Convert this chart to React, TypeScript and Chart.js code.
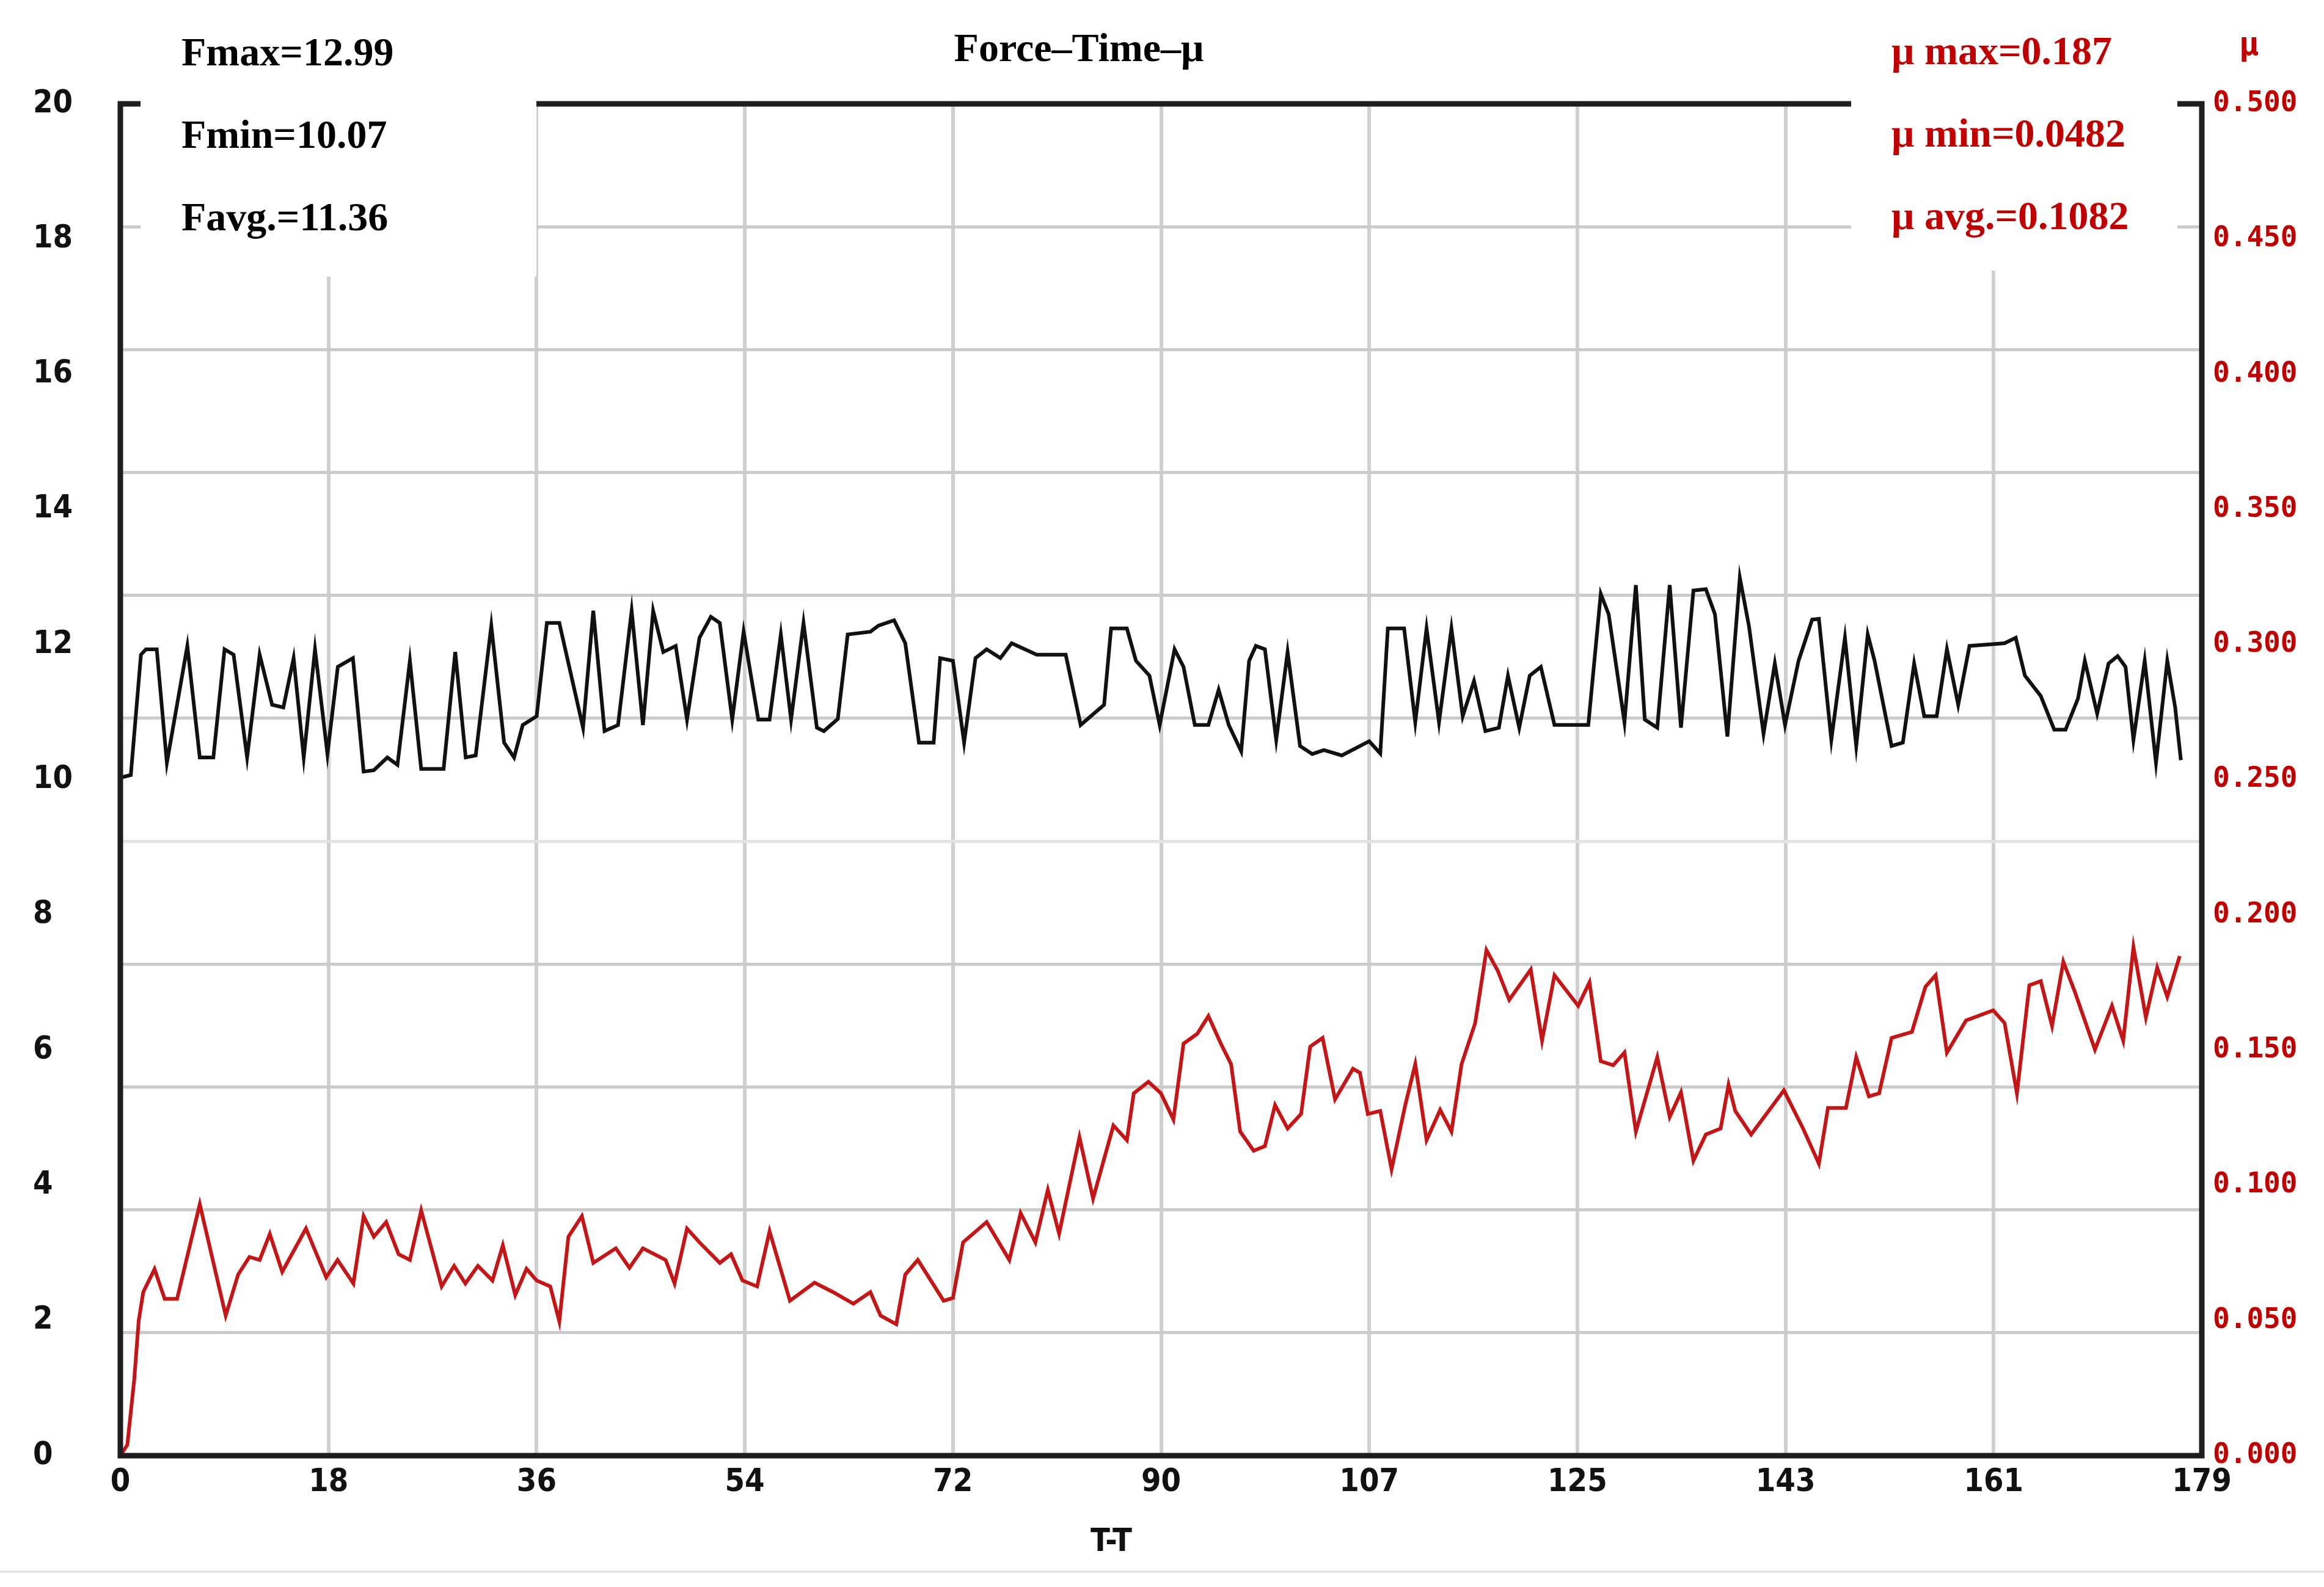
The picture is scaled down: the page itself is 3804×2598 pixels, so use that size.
import React, { useEffect, useRef } from 'react';
import { Chart, registerables } from 'chart.js';

Chart.register(...registerables);

// ---------- data ----------
const forceTime = [
  0, 0.9, 1.77, 2.2, 3.13, 4.0, 5.76, 6.83, 8.0, 8.96, 9.74, 10.9, 11.98, 13.05, 14.02, 14.9, 15.77, 16.74, 17.81,
  18.7, 20.0, 20.92, 21.8, 22.96, 23.83, 24.9, 25.87, 27.8, 28.8, 29.7, 30.56, 31.9, 33.0, 33.86, 34.6, 35.8,
  36.68, 37.75, 39.79, 40.67, 41.64, 42.8, 43.97, 44.94, 45.82, 46.69, 47.76, 48.73, 49.8, 50.78, 51.55, 52.62,
  53.6, 54.86, 55.83, 56.8, 57.68, 58.75, 59.9, 60.5, 61.7, 62.55, 64.5, 65.2, 66.54, 67.5, 68.68, 69.94, 70.5,
  71.6, 72.56, 73.54, 74.5, 75.68, 76.65, 78.8, 81.3, 82.58, 84.6, 85.2, 86.56, 87.34, 88.5, 89.38, 90.66, 91.43,
  92.4, 93.57, 94.45, 95.32, 96.39, 97.07, 97.65, 98.43, 99.4, 100.38, 101.45, 102.5, 103.5, 105.04, 107.4,
  108.35, 109.0, 110.4, 111.36, 112.33, 113.4, 114.47, 115.44, 116.41, 117.39, 118.55, 119.33, 120.3, 121.2,
  122.16, 123.33, 126.24, 127.31, 127.99, 129.35, 130.33, 131.1, 132.17, 133.24, 134.21, 135.28, 136.35, 137.13,
  138.2, 139.27, 140.05, 141.31, 142.28, 143.16, 144.32, 145.49, 146.07, 147.14, 148.31, 149.28, 150.27, 150.86,
  152.32, 153.29, 154.26, 155.13, 156.2, 157.08, 158.05, 159.02, 162.04, 163.0, 163.79, 165.15, 166.31, 167.28,
  168.35, 168.94, 170.0, 170.98, 171.76, 172.44, 173.12, 174.09, 175.06, 176.03, 176.71, 177.2,
];
const forceValue = [
  10.03, 10.07, 11.85, 11.93, 11.93, 10.25, 11.98, 10.33, 10.33, 11.93, 11.85, 10.33, 11.85, 11.11, 11.07, 11.8,
  10.33, 11.93, 10.38, 11.67, 11.8, 10.12, 10.14, 10.33, 10.22, 11.76, 10.16, 10.16, 11.89, 10.33, 10.36, 12.28,
  10.55, 10.33, 10.81, 10.94, 12.32, 12.32, 10.77, 12.5, 10.72, 10.81, 12.5, 10.81, 12.5, 11.89, 11.98, 10.89,
  12.1, 12.41, 12.32, 10.89, 12.19, 10.89, 10.89, 12.15, 10.89, 12.32, 10.77, 10.72, 10.9, 12.15, 12.19, 12.28,
  12.36, 12.02, 10.55, 10.55, 11.8, 11.76, 10.55, 11.8, 11.93, 11.8, 12.02, 11.85, 11.85, 10.81, 11.11, 12.24,
  12.24, 11.76, 11.54, 10.81, 11.93, 11.67, 10.81, 10.81, 11.33, 10.81, 10.42, 11.76, 11.98, 11.93, 10.59, 11.89,
  10.5, 10.38, 10.44, 10.36, 10.57, 10.39, 12.24, 12.24, 10.85, 12.24, 10.85, 12.24, 10.94, 11.46, 10.72, 10.77,
  11.54, 10.77, 11.54, 11.67, 10.81, 10.81, 12.75, 12.45, 10.85, 12.88, 10.89, 10.77, 12.88, 10.77, 12.8, 12.82,
  12.45, 10.64, 12.99, 12.28, 10.68, 11.72, 10.81, 11.76, 12.37, 12.38, 10.59, 12.1, 10.5, 12.15, 11.76, 10.5,
  10.55, 11.72, 10.94, 10.94, 11.93, 11.11, 11.98, 12.02, 12.1, 11.54, 11.24, 10.74, 10.74, 11.2, 11.76, 10.98,
  11.72, 11.83, 11.67, 10.59, 11.76, 10.25, 11.76, 11.07, 10.29,
];
const muTime = [
  0, 0.6, 1.19, 1.58, 1.97, 2.94, 3.81, 4.88, 6.83, 9.06, 10.13, 11.1, 11.98, 12.85, 13.92, 15.96, 17.7, 18.68,
  20.04, 20.92, 21.8, 22.86, 23.93, 24.9, 25.87, 27.63, 28.7, 29.67, 30.75, 32.0, 32.89, 33.96, 34.93, 35.8,
  36.97, 37.75, 38.53, 39.69, 40.67, 42.61, 43.78, 44.94, 46.89, 47.66, 48.73, 49.8, 51.55, 52.52, 53.5, 54.76,
  55.83, 57.58, 59.7, 61.29, 63.04, 64.5, 65.37, 66.73, 67.5, 68.58, 70.8, 71.6, 72.47, 74.5, 76.45, 77.42, 78.69,
  79.76, 80.73, 82.48, 83.65, 85.4, 86.56, 87.15, 88.41, 89.49, 90.56, 91.43, 92.6, 93.57, 94.64, 95.52, 96.3,
  97.46, 98.43, 99.3, 100.38, 101.54, 102.32, 103.39, 104.46, 106.0, 106.6, 107.28, 108.35, 109.32, 110.5,
  111.36, 112.33, 113.5, 114.47, 115.34, 116.51, 117.48, 118.45, 119.44, 121.29, 122.26, 123.33, 125.37, 126.34,
  127.31, 128.38, 129.35, 130.33, 132.17, 133.24, 134.21, 135.28, 136.35, 137.62, 138.3, 138.88, 140.24, 143.06,
  144.71, 146.07, 146.85, 148.4, 149.28, 150.37, 151.25, 152.32, 154.07, 155.23, 156.11, 157.08, 158.73, 161.06,
  162.04, 163.1, 164.17, 165.15, 166.12, 167.09, 168.06, 169.81, 171.27, 172.24, 173.12, 174.19, 175.16, 176.03,
  177.1,
];
const muValue = [
  0.0, 0.004, 0.028, 0.05, 0.0605, 0.069, 0.058, 0.058, 0.093, 0.0518, 0.067, 0.0735, 0.0724, 0.082, 0.068, 0.084,
  0.066, 0.0724, 0.0637, 0.0886, 0.081, 0.0864, 0.0745, 0.0724, 0.0907, 0.0626, 0.0702, 0.0637, 0.0702, 0.0648,
  0.0778, 0.0594, 0.0691, 0.0648, 0.0626, 0.0497, 0.081, 0.0886, 0.0713, 0.0767, 0.0695, 0.0767, 0.0724, 0.0637,
  0.084, 0.0789, 0.0713, 0.0745, 0.0648, 0.0626, 0.083, 0.0573, 0.064, 0.0605, 0.0562, 0.0605, 0.0518, 0.0486,
  0.067, 0.0724, 0.0573, 0.0583, 0.0789, 0.0864, 0.0724, 0.0897, 0.0789, 0.0983, 0.0821, 0.1178, 0.0951, 0.1221,
  0.1167, 0.134, 0.1383, 0.134, 0.1243, 0.1524, 0.156, 0.1626, 0.1524, 0.1448, 0.1199, 0.1128, 0.1145, 0.1297,
  0.121, 0.1264, 0.1513, 0.1545, 0.1318, 0.1431, 0.1416, 0.1264, 0.1275, 0.1059, 0.1297, 0.1448, 0.1167, 0.1279,
  0.1199, 0.1448, 0.16, 0.187, 0.1794, 0.1686, 0.1798, 0.1535, 0.1777, 0.1664, 0.1751, 0.1459, 0.1444, 0.1491,
  0.1199, 0.1474, 0.1253, 0.1344, 0.1091, 0.1188, 0.121, 0.1372, 0.1275, 0.1188, 0.1351, 0.121, 0.108, 0.1286,
  0.1286, 0.1474, 0.1329, 0.134, 0.1545, 0.1567, 0.1734, 0.1777, 0.1491, 0.161, 0.1647, 0.16, 0.134, 0.174,
  0.1755, 0.1589, 0.1827, 0.1718, 0.1502, 0.1664, 0.1535, 0.1881, 0.1621, 0.1805, 0.1697, 0.1848,
];

const xTickLabels = ['0', '18', '36', '54', '72', '90', '107', '125', '143', '161', '179'];
const leftTickLabels = ['0', '2', '4', '6', '8', '10', '12', '14', '16', '18', '20'];
const rightTickLabels = ['0.000', '0.050', '0.100', '0.150', '0.200', '0.250', '0.300', '0.350', '0.400', '0.450', '0.500'];
const gridRowCount = 11;

const chartTitle = 'Force–Time–μ';
const xAxisTitle = 'T-T';
const rightAxisTitle = 'μ';
const forceStats = ['Fmax=12.99', 'Fmin=10.07', 'Favg.=11.36'];
const muStats = ['μ max=0.187', 'μ min=0.0482', 'μ avg.=0.1082'];

// ---------- styles ----------
const W = 3804;
const H = 2598;
const RED = '#c00000';
const NARROW = "'Liberation Sans Narrow', 'DejaVu Sans Condensed', 'DejaVu Sans', sans-serif";
const MONO = "'DejaVu Sans Mono', 'Liberation Mono', monospace";
const SERIF = "'Liberation Serif', 'DejaVu Serif', serif";

const overlayPlugin = {
  id: 'overlay',
  beforeDraw(chart: any) {
    const ctx = chart.ctx;
    ctx.save();
    ctx.fillStyle = '#ffffff';
    ctx.fillRect(0, 0, chart.width, chart.height);
    ctx.restore();
  },
  afterDraw(chart: any) {
    const ctx = chart.ctx;
    const a = chart.chartArea;
    ctx.save();
    // frame
    ctx.strokeStyle = '#1e1e1e';
    ctx.lineWidth = 9;
    ctx.lineJoin = 'miter';
    ctx.strokeRect(a.left, a.top, a.right - a.left, a.bottom - a.top);
    // white label boxes
    ctx.fillStyle = '#ffffff';
    ctx.fillRect(230, 0, 648, 453);
    ctx.fillRect(3030, 0, 534, 443);
    // title
    ctx.fillStyle = '#000000';
    ctx.font = `bold 66px ${SERIF}`;
    ctx.textAlign = 'center';
    ctx.textBaseline = 'alphabetic';
    ctx.fillText(chartTitle, 1766, 100);
    // force stats
    ctx.textAlign = 'left';
    forceStats.forEach((s, i) => ctx.fillText(s, 297, 107 + i * 135));
    // mu stats
    ctx.fillStyle = RED;
    muStats.forEach((s, i) => ctx.fillText(s, 3096, 105 + i * 135));
    // right axis title
    ctx.font = `bold 54px ${MONO}`;
    ctx.textAlign = 'center';
    ctx.textBaseline = 'middle';
    ctx.fillText(rightAxisTitle, 3681, 76);
    // x axis title
    ctx.fillStyle = '#111111';
    ctx.font = `bold 52px ${NARROW}`;
    ctx.fillText(xAxisTitle, 1819, 2525);
    // bottom separator line
    ctx.strokeStyle = '#dddddd';
    ctx.lineWidth = 3;
    ctx.beginPath();
    ctx.moveTo(0, 2573);
    ctx.lineTo(W, 2573);
    ctx.stroke();
    ctx.restore();
  },
};

export default function App() {
  const canvasRef = useRef<HTMLCanvasElement | null>(null);

  useEffect(() => {
    const canvas = canvasRef.current;
    if (!canvas) return;
    document.body.style.margin = '0';
    const xMax = parseFloat(xTickLabels[xTickLabels.length - 1]);
    const chart = new Chart(canvas, {
      type: 'line',
      data: {
        datasets: [
          {
            label: 'μ',
            data: muTime.map((t, i) => ({ x: t, y: muValue[i] })),
            yAxisID: 'y1',
            borderColor: '#c41616',
            borderWidth: 6,
            pointRadius: 0,
            tension: 0,
            fill: false,
          },
          {
            label: 'Force',
            data: forceTime.map((t, i) => ({ x: t, y: forceValue[i] })),
            yAxisID: 'y',
            borderColor: '#111111',
            borderWidth: 6,
            pointRadius: 0,
            tension: 0,
            fill: false,
          },
        ],
      },
      options: {
        animation: false,
        responsive: false,
        devicePixelRatio: 1,
        layout: { padding: { left: 54, right: 0, top: 170, bottom: 0 } },
        plugins: { legend: { display: false }, tooltip: { enabled: false }, title: { display: false } },
        scales: {
          x: {
            type: 'linear',
            position: 'bottom',
            min: 0,
            max: xMax,
            afterBuildTicks: (scale: any) => {
              scale.ticks = xTickLabels.map((_, i) => ({ value: (i * xMax) / (xTickLabels.length - 1) }));
            },
            afterFit: (scale: any) => {
              scale.height = 215;
            },
            grid: { color: '#d0d0d0', lineWidth: 6, drawTicks: false },
            border: { display: false },
            ticks: {
              autoSkip: false,
              maxRotation: 0,
              padding: 13,
              color: '#111111',
              font: { family: NARROW, size: 52, weight: 'bold' },
              callback: (_v: any, i: number) => xTickLabels[i],
            },
          },
          y: {
            type: 'linear',
            position: 'left',
            min: 0,
            max: parseFloat(leftTickLabels[leftTickLabels.length - 1]),
            afterBuildTicks: (scale: any) => {
              scale.ticks = leftTickLabels.map((s) => ({ value: parseFloat(s) }));
            },
            afterFit: (scale: any) => {
              scale.width = 143;
            },
            grid: { display: false },
            border: { display: false },
            ticks: {
              crossAlign: 'far',
              color: '#111111',
              font: { family: NARROW, size: 52, weight: 'bold' },
              callback: (_v: any, i: number) => leftTickLabels[i],
            },
          },
          yGrid: {
            type: 'linear',
            position: 'left',
            min: 0,
            max: gridRowCount,
            ticks: { display: false, stepSize: 1 },
            afterFit: (scale: any) => {
              scale.width = 0;
            },
            grid: {
              color: (c: any) => (c.index === 5 ? '#e3e3e3' : '#cbcbcb'),
              lineWidth: 5,
              drawTicks: false,
            },
            border: { display: false },
          },
          y1: {
            type: 'linear',
            position: 'right',
            min: 0,
            max: parseFloat(rightTickLabels[rightTickLabels.length - 1]),
            afterBuildTicks: (scale: any) => {
              scale.ticks = rightTickLabels.map((s) => ({ value: parseFloat(s) }));
            },
            afterFit: (scale: any) => {
              scale.width = 200;
            },
            grid: { display: false },
            border: { display: false },
            ticks: {
              crossAlign: 'near',
              padding: 10,
              color: RED,
              font: { family: MONO, size: 46, weight: 'bold' },
              callback: (_v: any, i: number) => rightTickLabels[i],
            },
          },
        },
      } as any,
      plugins: [overlayPlugin],
    });
    return () => chart.destroy();
  }, []);

  return (
    <div style={{ position: 'absolute', left: 0, top: 0, width: W, height: H, background: '#fff' }}>
      <canvas ref={canvasRef} width={W} height={H} style={{ width: W, height: H, display: 'block' }} />
    </div>
  );
}
